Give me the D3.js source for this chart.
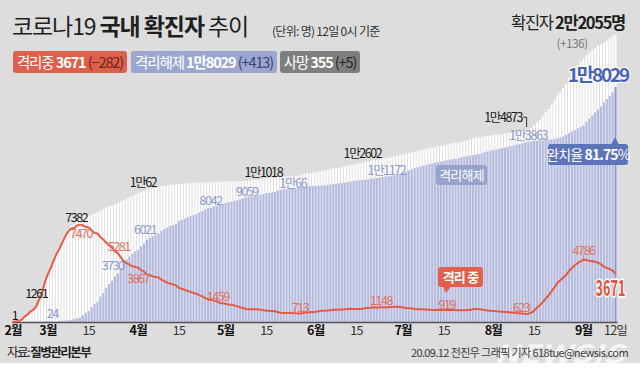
<!DOCTYPE html>
<html><head><meta charset="utf-8">
<script src="https://cdn.jsdelivr.net/npm/d3@7"></script>
<style>
html,body{margin:0;padding:0;background:#fff;}
svg{display:block;}
text{font-family:"Noto Sans CJK KR","Noto Sans",sans-serif;}
</style></head><body>
<svg id="chart" width="640" height="378"></svg>
<script>
// ---- data ----
const firstDay = new Date(2020, 1, 18), lastDay = new Date(2020, 8, 12);
const confirmed = [
31,51,104,204,433,602,833,977,1261,1766,2337,3150,
3736,4212,4812,5328,5766,6284,6767,7134,7382,7513,7755,7869,7979,8086,8162,8236,8320,8413,8565,8652,8799,8897,8961,9037,9137,9241,9332,9478,9583,9661,9786,
9887,9976,10062,10156,10237,10284,10331,10384,10423,10450,10480,10512,10537,10564,10591,10613,10635,10653,10661,10674,10683,10694,10702,10708,10718,10728,10738,10752,10761,10765,
10774,10780,10793,10801,10804,10806,10810,10822,10840,10874,10909,10936,10962,10991,11018,11037,11050,11065,11078,11110,11122,11142,11165,11190,11206,11225,11265,11344,11402,11441,11468,
11503,11541,11590,11629,11668,11719,11776,11814,11852,11902,11947,12003,12051,12085,12121,12155,12198,12257,12306,12373,12421,12438,12484,12535,12563,12602,12653,12715,12757,12800,
12850,12904,12967,13030,13091,13137,13181,13244,13293,13338,13373,13417,13479,13512,13551,13612,13672,13711,13745,13771,13816,13879,13938,13979,14092,14150,14175,14203,14251,14269,14305,
14336,14366,14389,14423,14456,14499,14519,14562,14598,14626,14660,14714,14770,14873,15039,15318,15515,15761,16058,16346,16670,17002,17399,17665,17945,18265,18706,19077,19400,19699,19947,
20182,20449,20644,20842,21010,21177,21296,21432,21588,21743,21919,22055];
const released = [
12,16,16,16,16,18,18,22,24,26,27,28,
30,31,34,41,88,108,118,130,166,247,288,333,510,714,834,1137,1401,1540,1947,2233,2612,2909,3166,3507,3730,4144,4528,4811,5033,5228,5408,
5567,5828,6021,6325,6463,6598,6694,6776,6973,7117,7243,7368,7447,7534,7757,7829,7937,8042,8114,8213,8277,8411,8501,8635,8717,8764,8854,8922,9059,9072,
9123,9183,9217,9283,9333,9419,9484,9568,9610,9632,9670,9695,9762,9821,9888,9904,9938,9970,10066,10135,10162,10194,10213,10226,10275,10295,10340,10362,10398,10422,10440,
10446,10452,10459,10491,10517,10538,10568,10600,10632,10661,10697,10732,10765,10819,10842,10873,10900,10913,10946,10996,11017,11046,11079,11120,11161,11172,11211,11260,11310,11371,
11458,11541,11624,11710,11802,11867,11926,11999,12051,12105,12155,12208,12255,12298,12342,12400,12453,12486,12528,12575,12625,12677,12711,12762,12804,12847,12892,12944,13026,13088,13149,
13195,13240,13288,13332,13384,13437,13496,13548,13604,13642,13695,13786,13825,13863,13884,13913,13930,13935,13962,13989,14011,14043,14090,14152,14232,14352,14493,14611,14729,14846,14973,
15072,15363,15615,15831,16076,16292,16540,16841,17094,17347,17616,18029];
const isolating = [
19,35,87,186,415,578,807,945,1225,1727,2294,3105,
3689,4159,4750,5255,5643,6134,6605,6954,7165,7212,7407,7470,7402,7300,7253,7024,6838,6789,6527,6325,6085,5884,5684,5410,5281,4966,4665,4523,4398,4275,4216,
4155,3979,3867,3654,3591,3500,3445,3408,3246,3125,3026,2930,2873,2808,2609,2555,2468,2379,2313,2225,2169,2045,1961,1833,1761,1722,1641,1586,1459,1446,
1401,1347,1326,1266,1217,1132,1070,998,974,986,983,983,941,910,870,871,850,832,749,712,696,684,686,698,664,661,656,713,734,749,758,
786,817,859,865,878,908,935,941,944,965,974,994,1009,989,1002,1004,1019,1065,1080,1097,1124,1112,1125,1134,1121,1148,1160,1173,1165,1147,
1110,1080,1060,1036,1005,985,970,960,955,945,930,920,935,925,920,919,925,930,922,900,895,905,930,920,990,1005,985,960,925,880,855,
840,825,800,790,770,760,720,710,690,680,660,623,640,705,850,1100,1280,1520,1790,2050,2350,2650,3000,3200,3400,3600,3900,4150,4350,4530,4650,
4786,4760,4700,4680,4600,4550,4420,4250,4150,4050,3953,3671];

const tickDates  = ["02-18","03-01","03-15","04-01","04-15","05-01","05-15","06-01","06-15","07-01","07-15","08-01","08-15","09-01","09-12"];
const tickLabels = ["2월","3월","15","4월","15","5월","15","6월","15","7월","15","8월","15","9월","12일"];

const confirmedNotes = [["02-18","1"],["02-26","1261"],["03-09","7382"],["04-03","1만62"],["05-15","1만1018"],["06-26","1만2602"],["08-14","1만4873"]];
const releasedNotes  = [["02-26","24"],["03-25","3730"],["04-03","6021"],["04-18","8042"],["04-29","9059"],["05-19","1만66"],["06-26","1만1172"],["08-14","1만3863"]];
const isolatingNotes = [["03-12","7470"],["03-25","5281"],["04-03","3867"],["04-29","1459"],["05-28","713"],["06-26","1148"],["07-16","919"],["08-12","623"],["09-01","4786"]];

const legendItems = [["격리중 ","3671"," (−282)"],["격리해제 ","1만8029"," (+413)"],["사망 ","355"," (+5)"]];
const totalText = ["확진자 ","2만2055명"];
const totalDelta = "(+136)";
const recoveryRate = ["완치율 ","81.75","%"];

// ---- layout (positions/styles only) ----
const confOff = [[1.5,-1.5],[0,-7.6],[5,-4],[-1,-4],[-3,-1.5],[-26,0],[-9,-6]];
const relOff  = [[16,-4],[-5,-3],[1,-9.5],[23,-12],[27,-8],[15,-3],[-2,-1],[-3,-1]];
const isoOff  = [[1,13.4],[1,-2],[-6,11.4],[-2,-2],[-4,-1],[-7.5,-2],[0,-1.5],[-4,-2],[0,-5]];

const fmt = d3.timeFormat("%m-%d");
const dates = d3.timeDay.range(firstDay, d3.timeDay.offset(lastDay, 1)).map(fmt);
const idx = new Map(dates.map((d,i)=>[d,i]));

const svg = d3.select("#chart");
const W = 640, H = 378;
svg.append("rect").attr("width",W).attr("height",H).attr("fill","#fff");
svg.append("rect").attr("width",W).attr("height",363).attr("fill","#dcdddc");

const x = d3.scaleBand().domain(dates).range([11.6, 617]).paddingInner(0.32).paddingOuter(0.16);
const y = d3.scaleLinear().domain([0, 22055]).range([322, 34.5]);
const cx = d => x(d) + x.bandwidth()/2;

// bars
const gBars = svg.append("g");
gBars.selectAll("rect.c").data(dates).join("rect")
  .attr("x", d=>x(d)).attr("width", x.bandwidth())
  .attr("y", (d,i)=>y(confirmed[i])).attr("height", (d,i)=>y(0)-y(confirmed[i]))
  .attr("fill","#ffffff");
gBars.selectAll("rect.r").data(dates).join("rect")
  .attr("x", d=>x(d)).attr("width", x.bandwidth())
  .attr("y", (d,i)=>y(released[i])).attr("height", (d,i)=>y(0)-y(released[i]))
  .attr("fill", (d,i)=> i===dates.length-1 ? "#8b97d3" : "#b3b9e0");

// axis
const ax = svg.append("g").attr("transform","translate(0,322)")
  .call(d3.axisBottom(x).tickValues(tickDates).tickFormat((d,i)=>tickLabels[i]).tickSize(0).tickSizeOuter(0));
ax.select(".domain").attr("stroke","#555").attr("stroke-width",1.6);
ax.selectAll(".tick text").attr("y",13).attr("dy",null)
  .attr("font-family",'"Noto Sans CJK KR",sans-serif')
  .attr("font-size",12.5).attr("letter-spacing",-0.8)
  .attr("fill",(d,i)=> tickLabels[i].includes("월") ? "#111" : "#333")
  .attr("font-weight",(d,i)=> tickLabels[i].includes("월") ? 700 : 400);

// isolating line
svg.append("path").datum(dates)
  .attr("fill","none").attr("stroke","#e45b45").attr("stroke-width",2).attr("stroke-linejoin","round")
  .attr("d", d3.line().x(d=>cx(d)).y((d,i)=>y(isolating[i])));

// notes
function notes(list, series, off, color, anchorFn){
  return svg.append("g").selectAll("text").data(list).join("text")
    .attr("x",(d,i)=>cx(d[0])+off[i][0])
    .attr("y",(d,i)=>y(series[idx.get(d[0])])+off[i][1])
    .attr("text-anchor",(d,i)=>anchorFn ? anchorFn(i) : "middle")
    .attr("font-size",12.5).attr("letter-spacing",-1.4).attr("fill",color)
    .text(d=>d[1]);
}
notes(confirmedNotes, confirmed, confOff, "#1a1a1a", i=> i===confirmedNotes.length-1 ? "end" : "middle");
notes(releasedNotes, released, relOff, "#8d99cf");
notes(isolatingNotes, isolating, isoOff, "#e2705f");

// bracket for 1만4873
{
  const d = confirmedNotes[confirmedNotes.length-1], o = confOff[confOff.length-1];
  const lx = cx(d[0])+o[0], ly = y(confirmed[idx.get(d[0])])+o[1];
  svg.append("path").attr("d",`M${lx+1},${ly-5}H${lx+4.5}V${ly+5}`).attr("fill","none").attr("stroke","#333").attr("stroke-width",1);
}
// tick for 4786
{
  const d = isolatingNotes[isolatingNotes.length-1];
  const px = cx(d[0]), py = y(isolating[idx.get(d[0])]);
  svg.append("line").attr("x1",px).attr("x2",px).attr("y1",py-4).attr("y2",py).attr("stroke","#e2705f").attr("stroke-width",1);
}

// last values
const last = dates[dates.length-1], li = dates.length-1;
svg.append("text").attr("x",cx(last)+12.5).attr("y",y(released[li])-5).attr("text-anchor","end")
  .attr("font-size",19).attr("font-weight",700).attr("letter-spacing",-2.2)
  .attr("fill","#4a62b2").attr("stroke","#fff").attr("stroke-width",2).attr("paint-order","stroke")
  .text(legendItems[1][1]);
svg.append("text").attr("x",cx(last)+10).attr("y",y(isolating[li])+22).attr("text-anchor","end")
  .attr("textLength",30).attr("lengthAdjust","spacingAndGlyphs")
  .attr("font-size",22).attr("font-weight",700)
  .attr("fill","#e0533d").attr("stroke","#fff").attr("stroke-width",3).attr("paint-order","stroke")
  .text(legendItems[0][1]);

// callouts
function callout(x0,y0,w,h,fill,parts,fs,ls){
  const g = svg.append("g");
  g.append("rect").attr("x",x0).attr("y",y0).attr("width",w).attr("height",h).attr("rx",3).attr("fill",fill);
  const t = g.append("text").attr("x",x0+w/2).attr("y",y0+h/2+fs*0.36).attr("text-anchor","middle")
    .attr("font-size",fs).attr("letter-spacing",ls).attr("fill","#fff");
  parts.forEach(p=>t.append("tspan").attr("font-weight",p[1]).text(p[0]));
  return g;
}
callout(436,165,51,20,"#97a3cf",[["격리해제",400]],13,-0.8);
const cRed = callout(438,267,45,20,"#e0604c",[["격리 중",700]],13,-0.8);
cRed.append("path").attr("d","M443,286.5L451,286.5L446,293Z").attr("fill","#e0604c");
const cBlue = callout(548,144,80,21,"#5e74b8",[[recoveryRate[0],400],[recoveryRate[1],700],[recoveryRate[2],400]],14,-0.9);
cBlue.append("path").attr("d",`M${cx(last)-4.5},144.5L${cx(last)+3.5},144.5L${cx(last)-0.5},137Z`).attr("fill","#5e74b8");

// title
const title = svg.append("text").attr("x",12).attr("y",35).attr("font-size",23).attr("letter-spacing",-1.1).attr("fill","#1f1f1f");
title.append("tspan").attr("font-weight",400).text("코로나19 ");
title.append("tspan").attr("font-weight",700).text("국내 확진자");
title.append("tspan").attr("font-weight",400).text(" 추이");
svg.append("text").attr("x",272).attr("y",36).attr("font-size",12).attr("letter-spacing",-0.7).attr("fill","#333")
  .text("(단위: 명) 12일 0시 기준");

// legend badges
const badgeX = [13,131,280], badgeW = [114,146,80];
const badgeFill = ["#dc604c","#9ca7d1","#7f7f7f"], badgeDelta = ["#6e2418","#39446f","#262626"];
legendItems.forEach((it,i)=>{
  svg.append("rect").attr("x",badgeX[i]).attr("y",51).attr("width",badgeW[i]).attr("height",22).attr("rx",3).attr("fill",badgeFill[i]);
  const t = svg.append("text").attr("x",badgeX[i]+badgeW[i]/2).attr("y",67.5).attr("text-anchor","middle")
    .attr("font-size",14.5).attr("letter-spacing",-1.1).attr("fill","#fff");
  t.append("tspan").text(it[0]);
  t.append("tspan").attr("font-weight",700).text(it[1]);
  t.append("tspan").attr("fill",badgeDelta[i]).text(it[2]);
});

// totals top right
const tt = svg.append("text").attr("x",625).attr("y",29).attr("text-anchor","end").attr("font-size",16.5).attr("letter-spacing",-1.3).attr("fill","#1f1f1f");
tt.append("tspan").text(totalText[0]);
tt.append("tspan").attr("font-weight",700).text(totalText[1]);
svg.append("text").attr("x",572).attr("y",48).attr("text-anchor","middle").attr("font-size",12).attr("letter-spacing",-0.6).attr("fill","#7a7a7a").text(totalDelta);

// footer
const src = svg.append("text").attr("x",7).attr("y",357).attr("font-size",12.5).attr("letter-spacing",-1.5).attr("fill","#222");
src.append("tspan").text("자료: ");
src.append("tspan").attr("font-weight",700).text("질병관리본부");
svg.append("text").attr("x",494).attr("y",363).attr("textLength",130).attr("lengthAdjust","spacingAndGlyphs")
  .attr("font-family","'Liberation Sans',Arial,sans-serif").attr("font-size",25).attr("font-weight",700).attr("font-style","italic")
  .attr("fill","#ffffff").attr("opacity",0.75).text("NEWSIS");
svg.append("text").attr("x",628).attr("y",357).attr("text-anchor","end").attr("font-size",11).attr("letter-spacing",-0.6).attr("fill","#3a3a3a")
  .text("20.09.12 전진우 그래픽 기자 618tue@newsis.com");
</script>
</body></html>
